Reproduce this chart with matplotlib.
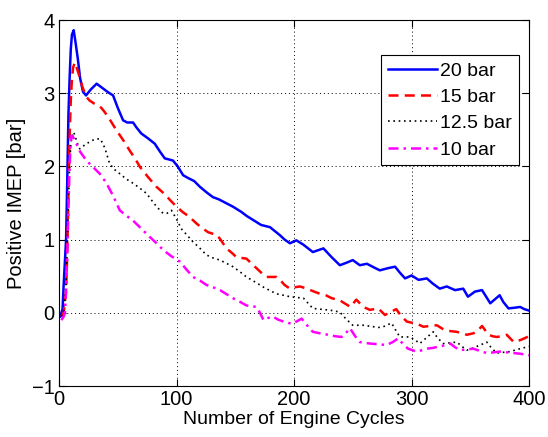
import matplotlib
matplotlib.use("Agg")
import matplotlib.pyplot as plt

# cycle numbers / positive IMEP [bar]
cyc_20 = [1, 3, 4, 5, 6, 7, 8, 9, 10, 11, 12.5, 14, 16, 18, 20.4, 23, 27, 32, 37, 42, 46, 50, 54.5, 58,
          63, 66, 70, 76, 81.5, 86, 90, 97, 101, 105.6, 110, 115, 120, 126, 131, 136, 142, 148, 155, 160,
          165, 172, 179.5, 188, 192, 196.5, 202, 208, 216, 225, 232, 239, 244, 250, 256, 262, 268, 273,
          280, 286, 290, 294.5, 300, 306, 313, 318, 324, 330, 337, 344, 348, 354, 360, 367, 375, 378,
          382.5, 388, 392.5, 396, 400]
imep_20 = [-0.05, 0.05, 0.4, 0.7, 1.0, 1.8, 2.7, 3.2, 3.6, 3.8, 3.86, 3.7, 3.47, 3.2, 3.02, 2.97, 3.05,
           3.13, 3.07, 3.01, 2.97, 2.8, 2.63, 2.6, 2.6, 2.53, 2.45, 2.38, 2.31, 2.2, 2.11, 2.08, 2.0, 1.88,
           1.84, 1.8, 1.72, 1.64, 1.58, 1.55, 1.5, 1.45, 1.38, 1.32, 1.27, 1.2, 1.17, 1.06, 1.0, 0.95, 0.99,
           0.93, 0.83, 0.88, 0.76, 0.65, 0.68, 0.72, 0.65, 0.67, 0.62, 0.58, 0.61, 0.63, 0.55, 0.47, 0.51,
           0.45, 0.47, 0.40, 0.33, 0.36, 0.31, 0.33, 0.22, 0.29, 0.31, 0.13, 0.24, 0.15, 0.06, 0.07, 0.08,
           0.05, 0.03]

cyc_15 = [2, 4, 6, 7, 8, 9, 10, 11, 12, 13.4, 15, 17.6, 20, 23.3, 26, 29.8, 33, 36, 39, 44, 49, 55, 60,
          65, 69, 76, 83, 90, 94.5, 100, 105, 111, 117, 122.5, 127, 131, 134, 137, 142.5, 147, 151, 155,
          159.5, 164, 168, 172, 176.5, 181, 185, 188, 192, 196.5, 201, 205, 211, 217, 222, 227, 232, 239,
          244, 248, 253, 259, 264.6, 271.7, 277.4, 282, 287, 291, 296, 301.5, 306, 310, 316, 321.5, 328.5,
          333, 338.5, 343, 347, 352.6, 356, 360, 365.5, 369, 372.5, 377, 381, 384, 387, 393, 400]
imep_15 = [-0.05, 0.0, 0.3, 0.8, 1.6, 2.4, 2.9, 3.2, 3.35, 3.42, 3.35, 3.22, 3.08, 2.95, 2.9, 2.86, 2.84,
           2.8, 2.74, 2.62, 2.49, 2.35, 2.22, 2.1, 1.99, 1.85, 1.72, 1.62, 1.54, 1.45, 1.38, 1.31, 1.22,
           1.15, 1.1, 1.08, 1.07, 1.01, 0.88, 0.82, 0.76, 0.75, 0.74, 0.67, 0.61, 0.55, 0.49, 0.49, 0.49,
           0.45, 0.38, 0.33, 0.35, 0.36, 0.33, 0.29, 0.26, 0.24, 0.20, 0.17, 0.12, 0.08, 0.18, 0.08, 0.04,
           0.06, -0.03, 0.01, 0.05, -0.04, -0.12, -0.14, -0.16, -0.19, -0.18, -0.17, -0.24, -0.25, -0.26,
           -0.28, -0.30, -0.28, -0.25, -0.18, -0.30, -0.32, -0.33, -0.32, -0.30, -0.35, -0.40, -0.37, -0.32]

cyc_125 = [2, 4, 6, 7, 8, 9, 10, 11, 12.5, 14, 16, 17.6, 20, 23.3, 29, 34.7, 37.5, 40, 43, 47, 51.7, 57,
           63, 69, 74.5, 78.7, 83, 88.5, 92, 95.7, 100, 104, 109, 114, 120, 125.5, 131, 137, 142, 148, 154,
           159.5, 167, 174, 180, 185, 191, 196.5, 202, 208, 212, 216, 222, 228, 233, 239, 244, 250, 255,
           259, 263, 267.5, 272, 276, 280, 283, 287, 290, 294, 298.5, 303, 307, 312, 318.5, 322, 327, 333,
           338.5, 343, 347, 351, 355.5, 360, 364, 368, 372.5, 378, 384, 390, 395, 400]
imep_125 = [-0.05, 0.0, 0.4, 0.9, 1.5, 2.0, 2.3, 2.4, 2.47, 2.4, 2.3, 2.24, 2.27, 2.31, 2.36, 2.38, 2.31,
            2.2, 2.04, 1.96, 1.9, 1.83, 1.77, 1.7, 1.63, 1.54, 1.45, 1.36, 1.36, 1.40, 1.28, 1.15, 1.06,
            0.97, 0.88, 0.79, 0.75, 0.72, 0.68, 0.63, 0.56, 0.49, 0.42, 0.35, 0.30, 0.26, 0.24, 0.22, 0.21,
            0.20, 0.13, 0.06, 0.05, 0.04, 0.03, 0.01, -0.08, -0.17, -0.17, -0.17, -0.18, -0.19, -0.20,
            -0.19, -0.16, -0.14, -0.25, -0.33, -0.33, -0.33, -0.37, -0.42, -0.35, -0.26, -0.34, -0.42,
            -0.41, -0.40, -0.46, -0.51, -0.49, -0.46, -0.43, -0.40, -0.48, -0.55, -0.54, -0.53, -0.50,
            -0.48, -0.46]

cyc_10 = [2, 4, 5, 6, 7, 8, 9, 10, 10.5, 12, 14.8, 18, 23.3, 29, 34.7, 40, 46, 51.7, 57, 63, 70, 77, 83,
          88.6, 95, 102.8, 108, 114, 120, 125.5, 131, 137, 142, 148, 154, 159.5, 164, 168, 171, 174, 178,
          182, 186, 191, 198, 202, 206.5, 211, 216, 222, 229, 235, 240.5, 244, 247.6, 252, 256, 260, 264.6,
          272, 278.8, 284, 288.6, 293, 297, 304.4, 309, 313, 318, 324, 329, 333, 337, 341, 347, 352.6, 358,
          364, 370, 375, 381, 387, 393, 400]
imep_10 = [-0.1, -0.05, 0.0, 0.3, 0.8, 1.4, 2.0, 2.35, 2.42, 2.4, 2.31, 2.2, 2.08, 1.99, 1.90, 1.78, 1.6,
           1.40, 1.33, 1.26, 1.15, 1.04, 0.95, 0.86, 0.78, 0.70, 0.6, 0.49, 0.44, 0.38, 0.35, 0.31, 0.26,
           0.20, 0.15, 0.10, 0.09, 0.08, 0.0, -0.10, -0.07, -0.05, -0.09, -0.12, -0.15, -0.12, -0.08, -0.17,
           -0.26, -0.28, -0.30, -0.32, -0.33, -0.28, -0.21, -0.32, -0.40, -0.41, -0.42, -0.43, -0.44, -0.40,
           -0.35, -0.43, -0.49, -0.53, -0.51, -0.49, -0.48, -0.46, -0.44, -0.42, -0.47, -0.51, -0.50, -0.49,
           -0.52, -0.55, -0.54, -0.53, -0.54, -0.55, -0.56, -0.58]

labels = ["20 bar", "15 bar", "12.5 bar", "10 bar"]
x_ticks = [0, 100, 200, 300, 400]
y_ticks = [-1, 0, 1, 2, 3, 4]

plt.rcParams["font.family"] = ["Liberation Sans", "DejaVu Sans"]

fig = plt.figure(figsize=(5.48, 4.37), dpi=100)
ax = fig.add_axes([0.1077, 0.1167, 0.8577, 0.8375])

ax.plot(cyc_20, imep_20, color="#0000ff", lw=1.8, ls="-", label=labels[0])
ax.plot(cyc_15, imep_15, color="#ff0000", lw=1.8, ls=(0, (4, 2.5)), label=labels[1])
ax.plot(cyc_125, imep_125, color="black", lw=1.2, ls=(0, (1, 2.2)), label=labels[2])
ax.plot(cyc_10, imep_10, color="#ff00ff", lw=1.8, ls=(0, (4, 2, 1, 2)), label=labels[3])

ax.set_xlim(0, 400)
ax.set_ylim(-1, 4)
ax.set_xticks(x_ticks)
ax.set_yticks(y_ticks)
ax.grid(True, color="black", ls=(0, (1, 3)), lw=0.7)
ax.tick_params(direction="in", top=True, right=True, labelsize=14.5, length=5, pad=3)
ax.set_xlabel("Number of Engine Cycles", fontsize=14, labelpad=1)
ax.set_ylabel("Positive IMEP [bar]", fontsize=14.5, labelpad=4)

leg = ax.legend(loc="upper right", bbox_to_anchor=(0.979, 0.904), fontsize=14, fancybox=False,
                framealpha=1, edgecolor="black", borderpad=0.35, labelspacing=0.45,
                handlelength=2.5, handletextpad=0.2, borderaxespad=0)
leg.get_frame().set_linewidth(0.8)

fig.savefig("out.png", dpi=100)
